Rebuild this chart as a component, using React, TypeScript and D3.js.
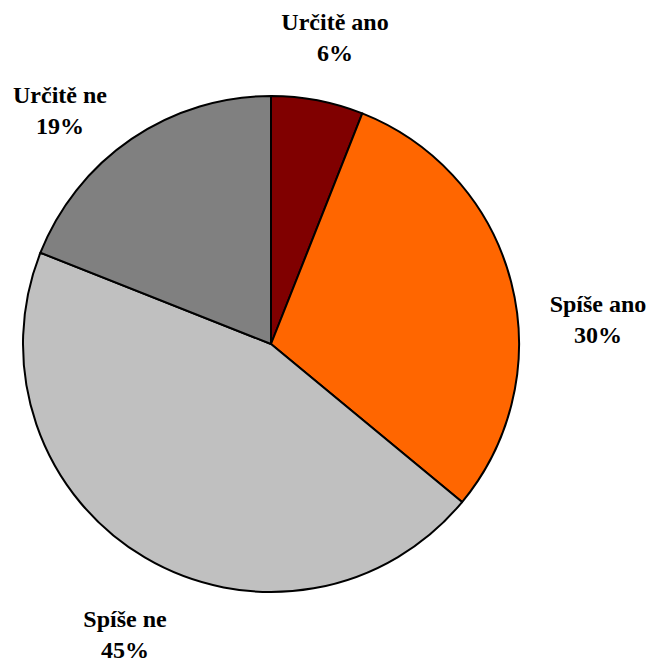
import * as d3 from "d3";

const categories = ["Určitě ano", "Spíše ano", "Spíše ne", "Určitě ne"];
const values = [6, 30, 45, 19];
const colors = ["#800000", "#FF6600", "#C0C0C0", "#808080"];
// label anchor points (baseline of the first line)
const labelPos = [
  [335, 30],
  [598, 312],
  [125, 627],
  [60, 103],
];

const width = 650;
const height = 664;
const cx = 271;
const cy = 344;
const radius = 248;

const pie = d3.pie<number>().sort(null).value((d) => d);
const arc = d3.arc<d3.PieArcDatum<number>>().innerRadius(0).outerRadius(radius);

const App = () => {
  const slices = pie(values);

  return (
    <svg
      width={width}
      height={height}
      style={{ position: "absolute", left: 0, top: 0, display: "block" }}
    >
      <g transform={`translate(${cx},${cy})`}>
        {slices.map((s, i) => (
          <path
            key={categories[i]}
            d={arc(s) || ""}
            fill={colors[i]}
            stroke="#000"
            strokeWidth={2}
            strokeLinejoin="round"
          />
        ))}
      </g>
      {categories.map((c, i) => (
        <text
          key={c}
          textAnchor="middle"
          fontFamily="Liberation Serif"
          fontWeight="bold"
          fontSize={24}
          fill="#000"
        >
          <tspan x={labelPos[i][0]} y={labelPos[i][1]}>
            {c}
          </tspan>
          <tspan x={labelPos[i][0]} y={labelPos[i][1] + 31}>
            {`${values[i]}%`}
          </tspan>
        </text>
      ))}
    </svg>
  );
};

export default App;
